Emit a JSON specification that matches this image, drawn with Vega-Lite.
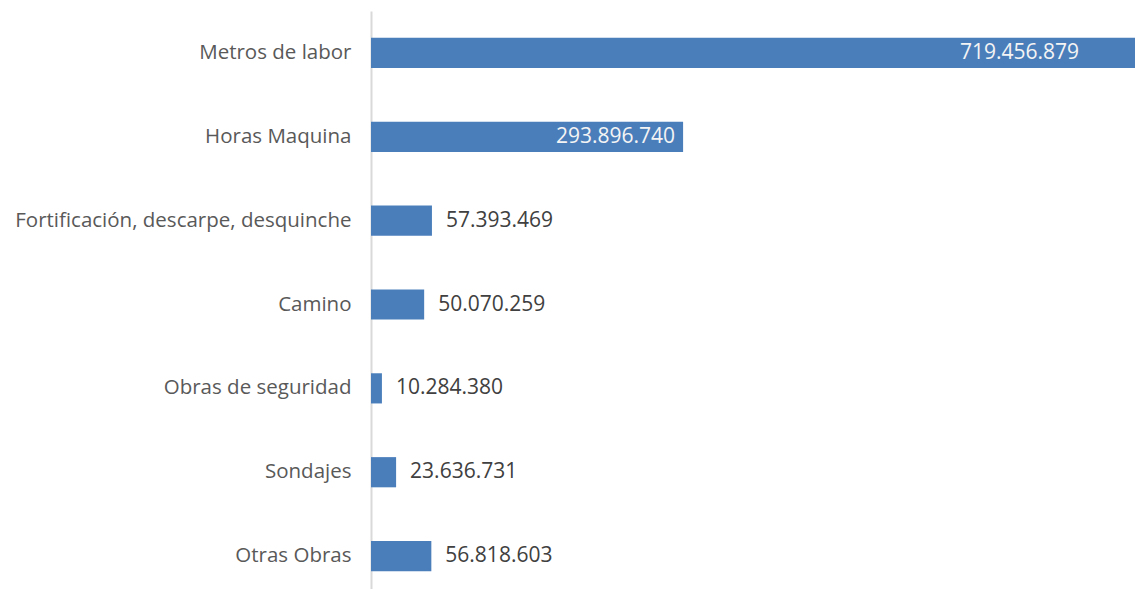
{
  "$schema": "https://vega.github.io/schema/vega-lite/v6.json",
  "width": 764,
  "height": 587,
  "autosize": {"type": "none"},
  "padding": {"left": 371, "top": 11, "right": 0, "bottom": 0},
  "background": "white",
  "config": {
    "view": {"stroke": null},
    "font": "Open Sans",
    "locale": {
      "number": {"decimal": ",", "thousands": ".", "grouping": [3], "currency": ["$", ""]}
    }
  },
  "data": {
    "values": [
      {"item": "Metros de labor", "value": 719456879},
      {"item": "Horas Maquina", "value": 293896740},
      {"item": "Fortificación, descarpe, desquinche", "value": 57393469},
      {"item": "Camino", "value": 50070259},
      {"item": "Obras de seguridad", "value": 10284380},
      {"item": "Sondajes", "value": 23636731},
      {"item": "Otras Obras", "value": 56818603}
    ]
  },
  "encoding": {
    "y": {
      "field": "item",
      "type": "nominal",
      "sort": null,
      "scale": {"paddingInner": 0.64, "paddingOuter": 0.32},
      "axis": {
        "title": null,
        "ticks": false,
        "domainColor": "#d9d9d9",
        "domainWidth": 2,
        "labelFontSize": 20.5,
        "labelColor": "#595959",
        "labelPadding": 20,
        "labelLimit": 400
      }
    },
    "x": {
      "field": "value",
      "type": "quantitative",
      "scale": {"domain": [0, 719456879], "nice": false},
      "axis": null
    }
  },
  "layer": [
    {
      "mark": {"type": "bar", "color": "#4a7ebb", "clip": true}
    },
    {
      "transform": [{"filter": "datum.value > 500000000"}],
      "mark": {
        "type": "text",
        "align": "right",
        "baseline": "middle",
        "dx": -56,
        "fontSize": 21,
        "color": "#f4f4f4"
      },
      "encoding": {"text": {"field": "value", "type": "quantitative", "format": ",d"}}
    },
    {
      "transform": [{"filter": "datum.value > 200000000 && datum.value <= 500000000"}],
      "mark": {
        "type": "text",
        "align": "right",
        "baseline": "middle",
        "dx": -8,
        "fontSize": 21,
        "color": "#f4f4f4"
      },
      "encoding": {"text": {"field": "value", "type": "quantitative", "format": ",d"}}
    },
    {
      "transform": [{"filter": "datum.value <= 200000000"}],
      "mark": {
        "type": "text",
        "align": "left",
        "baseline": "middle",
        "dx": 14,
        "fontSize": 21,
        "color": "#404040"
      },
      "encoding": {"text": {"field": "value", "type": "quantitative", "format": ",d"}}
    }
  ]
}
